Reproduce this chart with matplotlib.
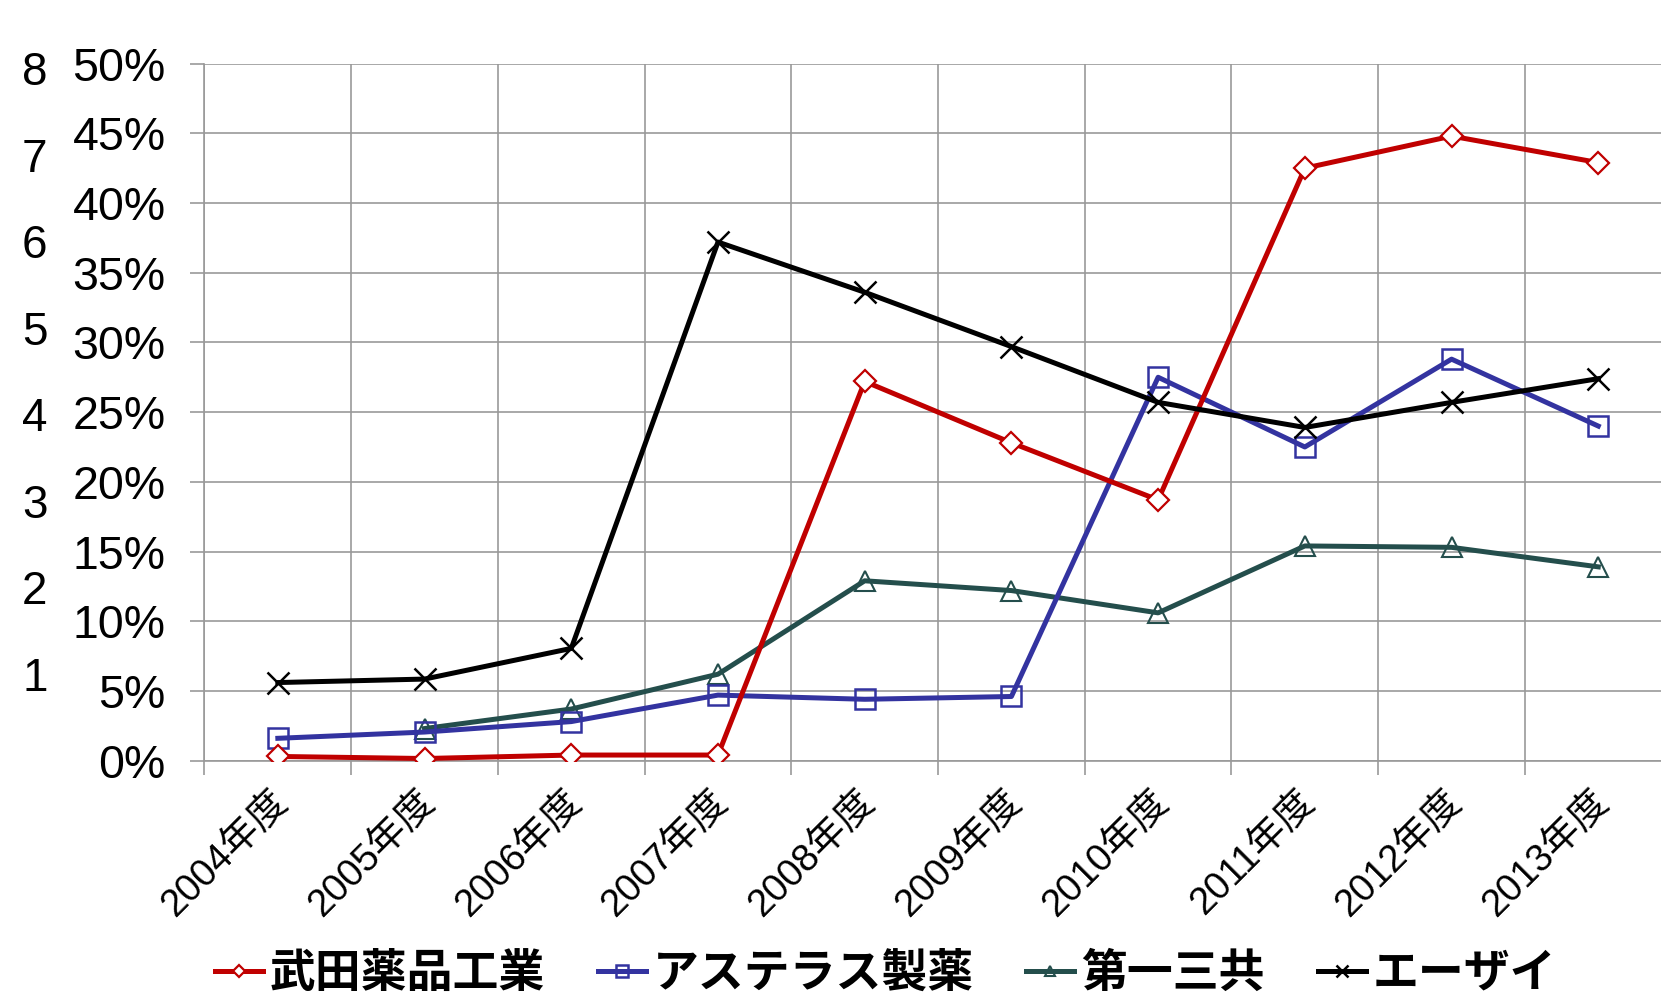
import numpy as np
import matplotlib
matplotlib.use('Agg')
import matplotlib.pyplot as plt
import matplotlib.transforms as mtransforms
from matplotlib.ticker import PercentFormatter

plt.rcParams['font.family'] = ['Liberation Sans', 'Noto Sans CJK JP', 'DejaVu Sans']

# データ (比率, %)
years = ['2004年度', '2005年度', '2006年度', '2007年度', '2008年度',
         '2009年度', '2010年度', '2011年度', '2012年度', '2013年度']
takeda = [0.3, 0.15, 0.4, 0.4, 27.2, 22.8, 18.7, 42.5, 44.8, 42.9]
astellas = [1.6, 2.05, 2.8, 4.7, 4.4, 4.6, 27.5, 22.5, 28.8, 24.0]
daiichi = [np.nan, 2.3, 3.7, 6.2, 12.9, 12.2, 10.6, 15.4, 15.3, 13.9]
eisai = [5.6, 5.85, 8.05, 37.2, 33.6, 29.7, 25.7, 23.9, 25.7, 27.4]
names = ['武田薬品工業', 'アステラス製薬', '第一三共', 'エーザイ']
# 裏に隠れている別の軸の目盛り
ghost_ticks = [1, 2, 3, 4, 5, 6, 7, 8]

fig = plt.figure(figsize=(16.61, 10.02), dpi=100)
ax = fig.add_axes([0.1231, 0.2409, 0.8833, 0.6956])

x = np.arange(len(years))
ax.plot(x, takeda, color='#C00000', lw=3.6, marker='D', ms=11, mfc='white',
        mec='#C00000', mew=1.6, label=names[0], zorder=5)
ax.plot(x, astellas, color='#3333A0', lw=3.6, marker='s', ms=15, mfc='none',
        mec='#3333A0', mew=1.8, label=names[1], zorder=4)
ax.plot(x, daiichi, color='#244E4C', lw=3.6, marker='^', ms=14, mfc='none',
        mec='#244E4C', mew=1.5, label=names[2], zorder=3)
ax.plot(x, eisai, color='black', lw=3.6, marker='x', ms=16, mew=1.8,
        label=names[3], zorder=6)

ax.set_xlim(-0.5, len(years) - 0.5)
ax.set_ylim(0, 50)
ax.set_yticks(np.arange(0, 51, 5))
ax.yaxis.set_major_formatter(PercentFormatter(decimals=0))

ax.set_xticks(x)
ax.set_xticklabels(years, rotation=45, ha='right', rotation_mode='anchor')
ax.set_xticks(np.arange(-0.5, len(years), 1), minor=True)

gc = '#999999'
ax.grid(True, axis='y', which='major', color=gc, lw=1.2)
ax.grid(True, axis='x', which='minor', color=gc, lw=1.2)
ax.tick_params(axis='y', length=10, width=1.2, color=gc, pad=18, labelsize=33.5)
ax.tick_params(axis='x', which='major', length=0, pad=17, labelsize=27.5)
ax.tick_params(axis='x', which='minor', length=10, width=1.2, color=gc)
for s in ['top', 'right']:
    ax.spines[s].set_visible(False)
for s in ['left', 'bottom']:
    ax.spines[s].set_color(gc)
    ax.spines[s].set_linewidth(1.2)
ax.set_axisbelow(True)

# ラベルを少し左へ
shift = mtransforms.ScaledTranslation(-6 / 72, 0, fig.dpi_scale_trans)
for lab in ax.get_xticklabels():
    lab.set_transform(lab.get_transform() + shift)

# 左端に見える別の軸の目盛り
ax2 = ax.twinx()
ax2.set_ylim(0, 8.05)
ax2.set_yticks(ghost_ticks)
ax2.yaxis.tick_left()
ax2.tick_params(axis='y', length=0, pad=113, labelsize=33)
for s in ax2.spines.values():
    s.set_visible(False)
ax2.set_zorder(-1)

fig.legend(loc='center', bbox_to_anchor=(0.533, 0.028), ncol=4, frameon=False,
           prop={'size': 33, 'weight': 'bold', 'family': ['Noto Sans CJK JP']},
           handlelength=1.05, handletextpad=0.15, columnspacing=1.15,
           markerscale=0.55, borderpad=0.1)

fig.savefig('out.png', dpi=100)
